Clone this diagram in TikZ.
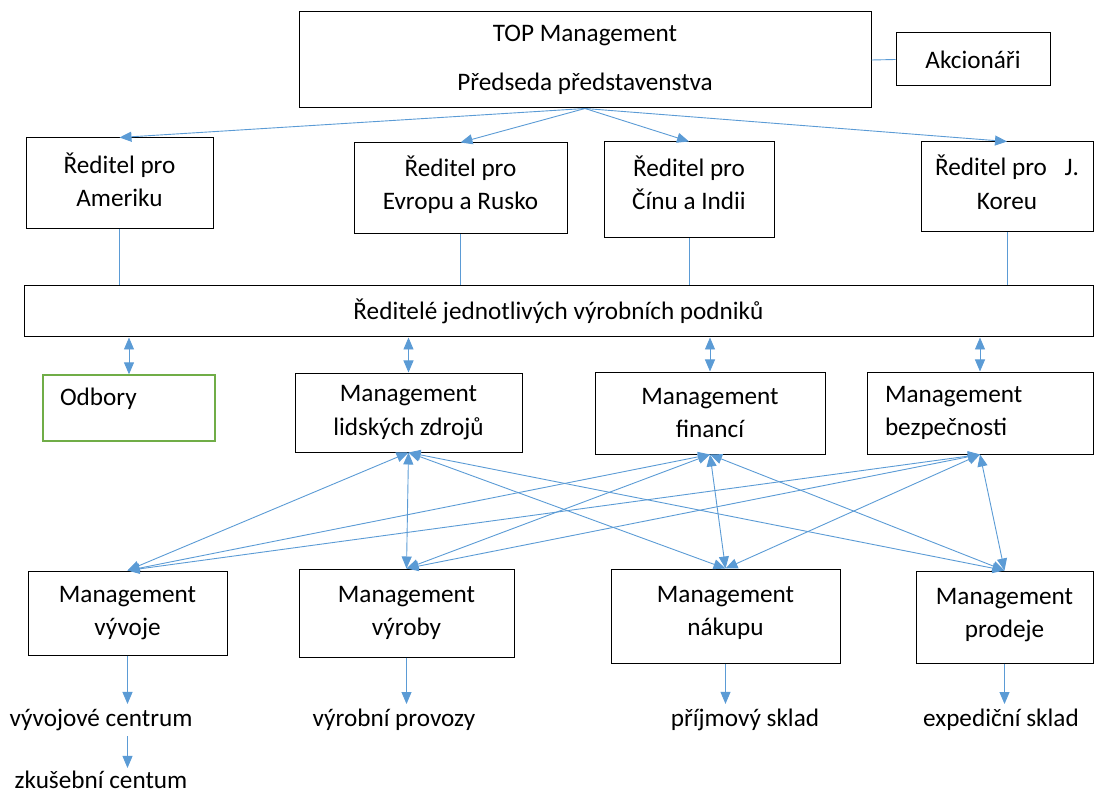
\documentclass[tikz,border=0pt]{standalone}
\usepackage{fontspec}
\setmainfont{Carlito}
\usetikzlibrary{arrows.meta}
\definecolor{lnblue}{HTML}{5B9BD5}
\definecolor{odgreen}{HTML}{70AD47}
\begin{document}
\begin{tikzpicture}[x=1pt,y=-1pt,
  every node/.style={font=\fontsize{25.2}{33.5}\selectfont},
  box/.style={draw=black, line width=1pt, align=center, inner sep=2pt},
  txt/.style={inner xsep=2pt, inner ysep=5pt},
  link/.style={draw=lnblue, line width=0.9pt},
  onearrow/.style={link, -{Triangle[length=12pt,width=10pt]}},
  twoarrow/.style={link, {Triangle[length=12pt,width=10pt]}-{Triangle[length=12pt,width=10pt]}}
]
\useasboundingbox (0,0) rectangle (1098,794);

% top level
\node[box, minimum width=572pt, minimum height=96pt] (top) at (585,60) {TOP Management\\[16pt]Předseda představenstva};
\node[box, minimum width=154pt, minimum height=53pt] (ak) at (973,59.5) {Akcionáři};

% directors
\node[box, minimum width=187pt, minimum height=91pt, text depth=8pt] (am) at (119.5,183.5) {Ředitel pro\\Ameriku};
\node[box, minimum width=213pt, minimum height=91pt, text depth=12pt] (ev) at (460.5,188.5) {Ředitel pro\\Evropu a Rusko};
\node[box, minimum width=170pt, minimum height=96pt, text depth=15pt] (ci) at (689,190) {Ředitel pro\\Čínu a Indii};
\node[box, minimum width=172pt, minimum height=90pt, text depth=10pt] (ko) at (1007,187) {Ředitel pro\hspace{12pt} J.\\Koreu};

% bar
\node[box, minimum width=1069pt, minimum height=51pt] (bar) at (558.5,311.5) {Ředitelé jednotlivých výrobních podniků};

% second row
\node[box, draw=odgreen, line width=1.3pt, minimum width=172pt, minimum height=66pt, text width=138pt, inner xsep=17pt, align=left, text depth=22pt] (od) at (129,408) {Odbory};
\node[box, minimum width=227pt, minimum height=79pt] (hr) at (408.5,412.5) {Management\\lidských zdrojů};
\node[box, minimum width=230pt, minimum height=82pt] (fi) at (710,413) {Management\\financí};
\node[box, minimum width=226pt, minimum height=82pt, text width=190pt, inner xsep=18pt, align=left] (bz) at (980,413) {Management\\bezpečnosti};

% bottom row
\node[box, minimum width=199pt, minimum height=84pt] (vy) at (127.5,613) {Management\\vývoje};
\node[box, minimum width=215pt, minimum height=88pt] (vr) at (406.5,613) {Management\\výroby};
\node[box, minimum width=229pt, minimum height=94pt, text depth=10pt] (na) at (725.5,616) {Management\\nákupu};
\node[box, minimum width=177pt, minimum height=92pt, text depth=8pt] (pr) at (1004.5,617) {Management\\prodeje};

% bottom labels
\node[txt] (vc) at (101,720) {vývojové centrum};
\node[txt, inner ysep=3pt] (zc) at (101,780) {zkušební centum};
\node[txt] (vp) at (394,720) {výrobní provozy};
\node[txt] (ps) at (745,720) {příjmový sklad};
\node[txt] (es) at (1001,720) {expediční sklad};

% connectors: top
\draw[link] (top.east) -- (ak.west);
\foreach \d in {am,ev,ci,ko} \draw[onearrow] (top.south) -- (\d.north);

% directors to bar
\foreach \d in {am,ev,ci,ko} \draw[link] (\d.south) -- (\d.south |- bar.north);

% bar to second row
\foreach \m in {od,hr,fi,bz} \draw[twoarrow] (\m.north |- bar.south) -- (\m.north);

% cross links
\foreach \m in {hr,fi,bz}
  \foreach \b in {vy,vr,na,pr}
    \draw[twoarrow] (\m.south) -- (\b.north);

% bottom arrows
\draw[onearrow] (vy.south) -- (vc.north -| vy.south);
\draw[onearrow] (vc.south -| vy.south) -- (zc.north -| vy.south);
\draw[onearrow] (vr.south) -- (vp.north -| vr.south);
\draw[onearrow] (na.south) -- (ps.north -| na.south);
\draw[onearrow] (pr.south) -- (es.north -| pr.south);
\end{tikzpicture}
\end{document}
